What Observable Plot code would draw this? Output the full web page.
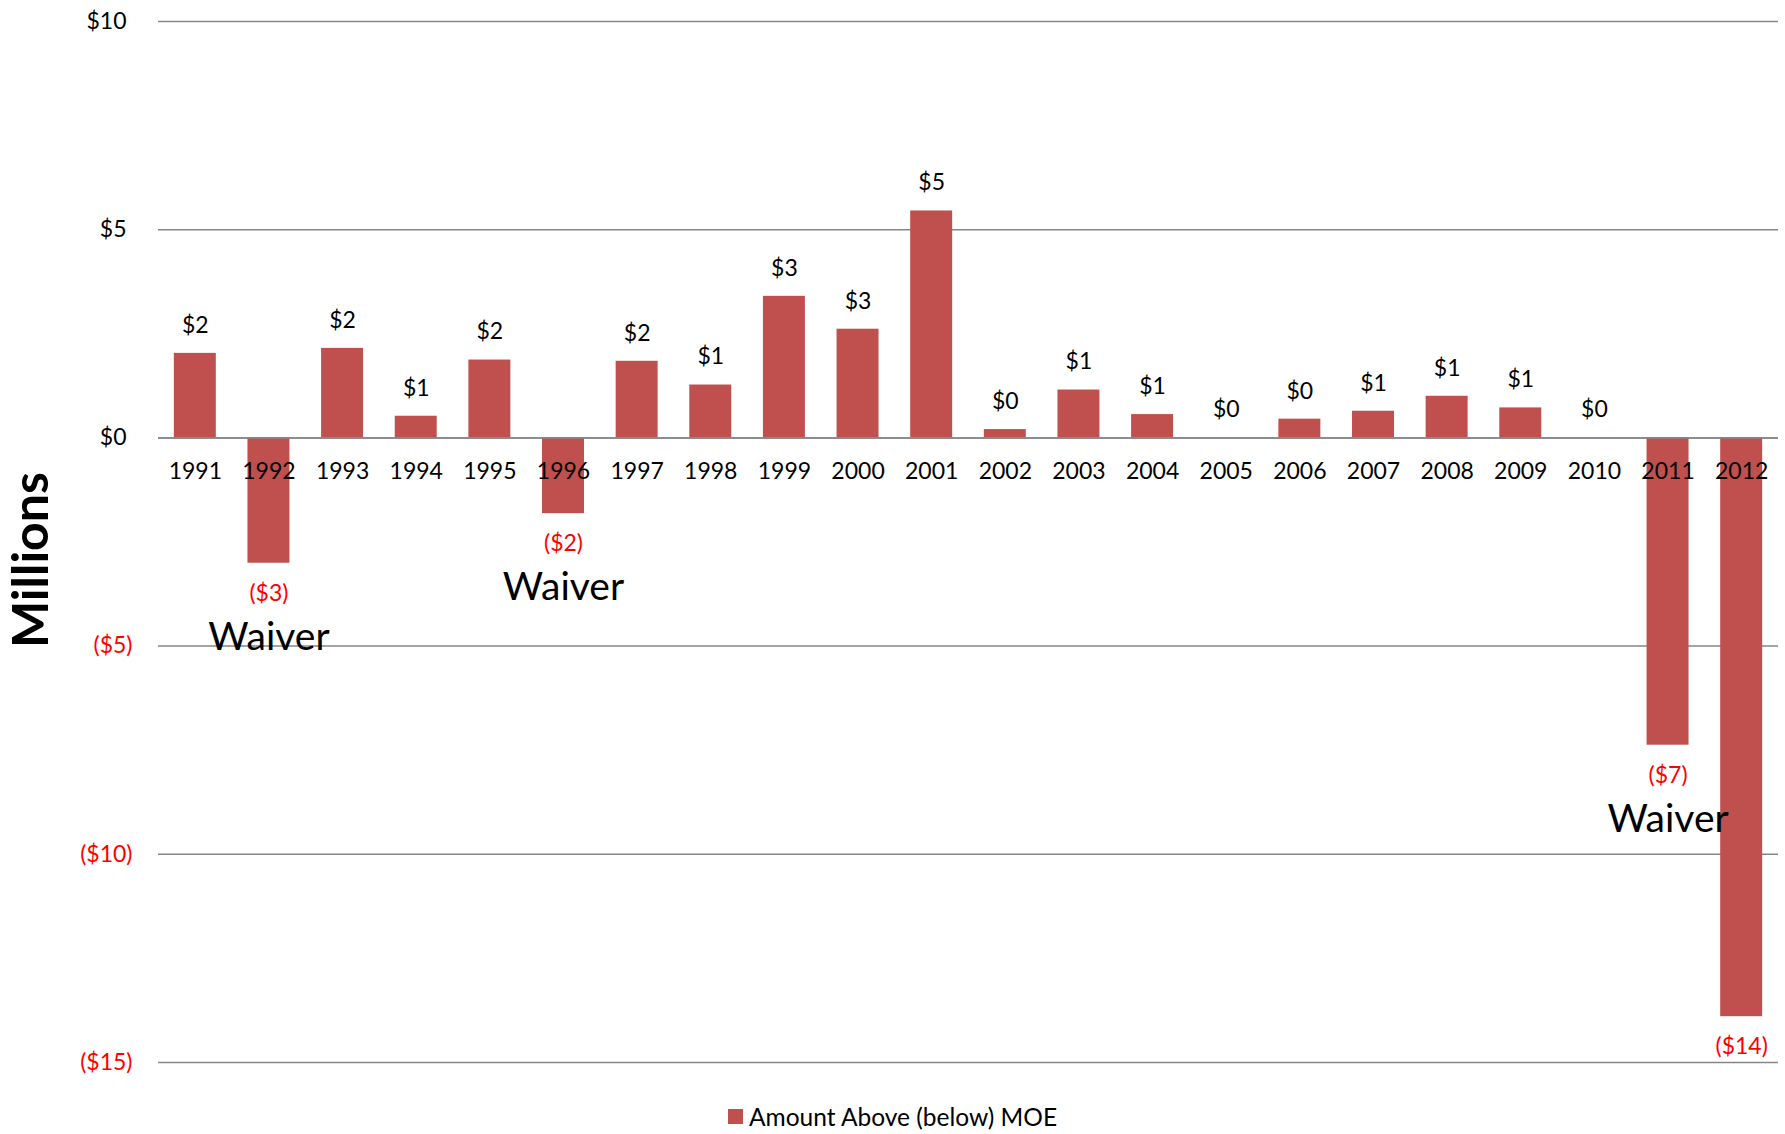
<!DOCTYPE html>
<html>
<head>
<meta charset="utf-8">
<script src="https://cdn.jsdelivr.net/npm/d3@7"></script>
<script src="https://cdn.jsdelivr.net/npm/@observablehq/plot@0.6"></script>
<style>
  html, body { margin: 0; padding: 0; background: #fff; overflow: hidden; }
  #legend { box-sizing: border-box; height: 49px; padding-top: 13px; display: flex; justify-content: center; align-items: center; font-family: Lato, sans-serif; font-size: 24.5px; color: #000; }
  #legend .sw { width: 15px; height: 15px; background: #C0504D; margin-right: 6px; }
</style>
</head>
<body>
<div id="chart"></div>
<div id="legend"><span class="sw"></span><span>Amount Above (below) MOE</span></div>
<script>
const years = ["1991","1992","1993","1994","1995","1996","1997","1998","1999","2000","2001","2002","2003","2004","2005","2006","2007","2008","2009","2010","2011","2012"];
const amounts = [2.03, -3.01, 2.15, 0.52, 1.87, -1.82, 1.84, 1.27, 3.40, 2.61, 5.45, 0.20, 1.15, 0.56, 0, 0.45, 0.64, 1.00, 0.72, 0, -7.38, -13.9];
const waiverYears = ["1992", "1996", "2011"];
const posTicks = [0, 5, 10];
const negTicks = [-15, -10, -5];
const seriesName = "Amount Above (below) MOE";

const data = years.map((year, i) => ({year, value: amounts[i]}));
const fmt = v => v < 0 ? `($${Math.round(-v)})` : `$${Math.round(v)}`;
const pos = data.filter(d => d.value >= 0);
const neg = data.filter(d => d.value < 0);
const waivers = data.filter(d => waiverYears.includes(d.year));

const chart = Plot.plot({
  width: 1785,
  height: 1085,
  marginLeft: 158,
  marginRight: 7,
  marginTop: 21,
  marginBottom: 23,
  style: {fontFamily: "Lato, sans-serif", fontSize: "23px", background: "#fff", overflow: "visible"},
  x: {type: "band", domain: years, paddingInner: 0.43, paddingOuter: 0.215, round: false, axis: null},
  y: {domain: [-15, 10]},
  marks: [
    Plot.gridY([...negTicks, ...posTicks], {stroke: "#868686", strokeOpacity: 1, strokeWidth: 1.5}),
    Plot.axisY(posTicks, {tickSize: 0, tickPadding: 32, color: "#000", tickFormat: fmt, fontSize: 23, label: null}),
    Plot.axisY(negTicks, {tickSize: 0, tickPadding: 26, color: "#FF0000", tickFormat: fmt, fontSize: 23, label: null}),
    Plot.barY(data, {x: "year", y: "value", fill: "#C0504D"}),
    Plot.ruleY([0], {stroke: "#868686", strokeWidth: 1.5}),
    Plot.text(data, {x: "year", y: 0, dy: 34, text: "year", fill: "#000", fontSize: 23}),
    Plot.text(pos, {x: "year", y: "value", dy: -28, text: d => fmt(d.value), fill: "#000", fontSize: 23}),
    Plot.text(neg, {x: "year", y: "value", dy: 30, text: d => fmt(d.value), fill: "#FF0000", fontSize: 23}),
    Plot.text(waivers, {x: "year", y: "value", dy: 74, text: () => "Waiver", fill: "#000", fontSize: 39}),
    Plot.text(["Millions"], {frameAnchor: "left", textAnchor: "middle", dx: -127, dy: 18, rotate: -90, text: d => d, fontSize: 50, fontWeight: "bold", fill: "#000"})
  ]
});
document.getElementById("chart").appendChild(chart);
</script>
</body>
</html>
